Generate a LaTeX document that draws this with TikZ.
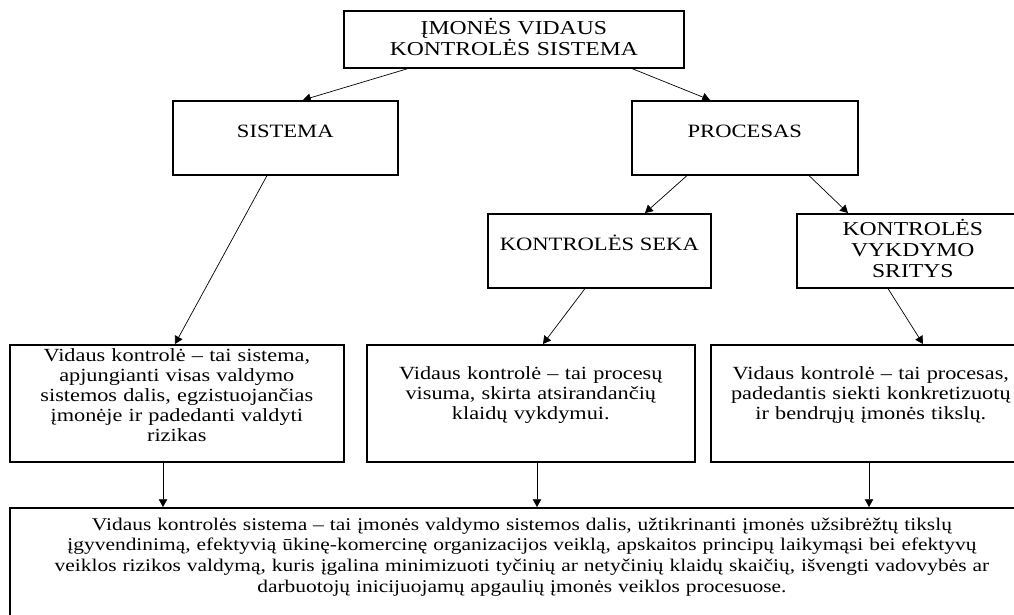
\documentclass[tikz,border=0pt]{standalone}
\usepackage{fontspec}
\setmainfont[FakeStretch=1.2]{Liberation Serif}
\usetikzlibrary{calc,arrows.meta}

\begin{document}
\begin{tikzpicture}[x=0.025cm,y=-0.025cm,
  box/.style={draw,line width=1.1pt,anchor=north west,inner sep=2pt,align=center},
  topbox/.style={box,font=\fontsize{14}{15}\selectfont},
  headbox/.style={box,font=\fontsize{13.4}{14.2}\selectfont,minimum height=1.85cm,text height=9pt,text depth=9pt},
  textbox/.style={box,font=\fontsize{13.2}{14.2}\selectfont,minimum height=2.925cm},
  arr/.style={line width=0.5pt,-{Triangle[length=5.5pt,width=6pt]}}]
\useasboundingbox (0,0) rectangle (1014,614);
% virsus
\node[topbox,minimum width=8.5cm,minimum height=1.425cm,text width=8cm,text depth=19pt] (imone) at (343,10) {ĮMONĖS VIDAUS\\KONTROLĖS SISTEMA};
\node[headbox,minimum width=5.625cm] (sistema) at (172,100) {SISTEMA};
\node[headbox,minimum width=5.65cm] (procesas) at (631,100) {PROCESAS};
\node[headbox,minimum width=5.575cm] (seka) at (487,213) {KONTROLĖS SEKA};
\node[topbox,minimum width=5.8cm,minimum height=1.85cm,text width=5.4cm,text depth=34pt] (sritys) at (796,213) {KONTROLĖS\\VYKDYMO\\SRITYS};
% apibrezimai
\node[textbox,minimum width=8.35cm,text width=8cm,text depth=68pt] (sistdef) at (9,344) {Vidaus kontrolė – tai sistema,\\apjungianti visas valdymo\\sistemos dalis, egzistuojančias\\įmonėje ir padedanti valdyti\\rizikas};
\node[textbox,minimum width=8.2cm,text width=7.8cm,text depth=42.4pt] (sekadef) at (366,344) {Vidaus kontrolė – tai procesų\\visuma, skirta atsirandančių\\klaidų vykdymui.};
\node[textbox,minimum width=8cm,text width=7.6cm,text depth=42.4pt] (sritdef) at (710,344) {Vidaus kontrolė – tai procesas,\\padedantis siekti konkretizuotų\\ir bendrųjų įmonės tikslų.};
\node[box,font=\fontsize{12.7}{14.7}\selectfont,minimum width=25.6cm,text width=25cm,minimum height=3.325cm,text depth=71.8pt] (visdef) at (9,507) {Vidaus kontrolės sistema – tai įmonės valdymo sistemos dalis, užtikrinanti įmonės užsibrėžtų tikslų\\įgyvendinimą, efektyvią ūkinę-komercinę organizacijos veiklą, apskaitos principų laikymąsi bei efektyvų\\veiklos rizikos valdymą, kuris įgalina minimizuoti tyčinių ar netyčinių klaidų skaičių, išvengti vadovybės ar\\darbuotojų inicijuojamų apgaulių įmonės veiklos procesuose.};
% rodykles
\draw[arr] ($(imone.south west)+(65,0)$) -- ($(sistema.north west)+(131,0)$);
\draw[arr] ($(imone.south west)+(289,0)$) -- ($(procesas.north west)+(79,0)$);
\draw[arr] ($(procesas.south west)+(56,0)$) -- ($(seka.north west)+(158,0)$);
\draw[arr] ($(procesas.south west)+(178,0)$) -- ($(sritys.north west)+(52,0)$);
\draw[arr] ($(sistema.south west)+(95,0)$) -- ($(sistdef.north west)+(166,0)$);
\draw[arr] ($(seka.south west)+(98,0)$) -- ($(sekadef.north west)+(177,0)$);
\draw[arr] ($(sritys.south west)+(92,0)$) -- ($(sritdef.north west)+(213,0)$);
\draw[arr] ($(sistdef.south west)+(154,0)$) -- ($(visdef.north west)+(154,0)$);
\draw[arr] ($(sekadef.south west)+(171,0)$) -- ($(visdef.north west)+(528,0)$);
\draw[arr] ($(sritdef.south west)+(159,0)$) -- ($(visdef.north west)+(860,0)$);
\end{tikzpicture}
\end{document}
